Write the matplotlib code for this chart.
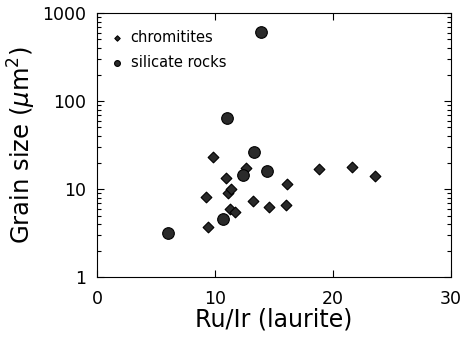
import matplotlib.pyplot as plt

# Ru/Ir ratio of laurite vs grain size
chrom_x = [9.8, 10.9, 9.2, 9.4, 11.1, 11.4, 11.3, 11.7, 13.2, 14.6, 16.1, 16.0, 18.8, 21.6, 23.6, 12.6]
chrom_y = [23.3, 13.2, 8.2, 3.7, 8.9, 10.0, 6.0, 5.5, 7.3, 6.2, 11.3, 6.6, 16.9, 17.6, 14.2, 17.2]

sil_x = [13.9, 11.0, 13.3, 14.4, 12.4, 10.7, 6.0]
sil_y = [603, 64.6, 26.5, 16.0, 14.4, 4.6, 3.2]

plt.rcParams['font.family'] = 'DejaVu Sans'
plt.rcParams['axes.linewidth'] = 0.8

fig = plt.figure(figsize=(4.62, 3.42), dpi=100)
ax = fig.add_axes([0.21, 0.19, 0.766, 0.772])

ax.scatter(chrom_x, chrom_y, marker='D', s=30, facecolor='#2a2a2a',
           edgecolor='black', linewidth=0.8, label='chromitites', zorder=3)
ax.scatter(sil_x, sil_y, marker='o', s=70, facecolor='#2a2a2a',
           edgecolor='black', linewidth=0.8, label='silicate rocks', zorder=3)

ax.set_yscale('log')
ax.set_xlim(0, 30)
ax.set_ylim(1, 1000)
ax.set_xticks([0, 10, 20, 30])
ax.set_yticks([1, 10, 100, 1000])
ax.set_yticklabels(['1', '10', '100', '1000'])
ax.tick_params(which='both', direction='in', top=True, right=True, labelsize=12.5,
               width=0.8)
ax.tick_params(axis='y', pad=8)
ax.tick_params(axis='x', pad=9)
ax.tick_params(which='major', length=5)
ax.tick_params(which='minor', length=3)

ax.set_xlabel('Ru/Ir (laurite)', fontsize=17, labelpad=0)
ax.set_ylabel('Grain size ($\\mu$m$^2$)', fontsize=17.5, labelpad=3)

leg = ax.legend(loc='upper left', bbox_to_anchor=(0.0, 0.985), frameon=False,
                fontsize=10.5, markerscale=0.5, handletextpad=0.4,
                labelspacing=0.7, handlelength=1.0)

fig.savefig('out.png', dpi=100)
